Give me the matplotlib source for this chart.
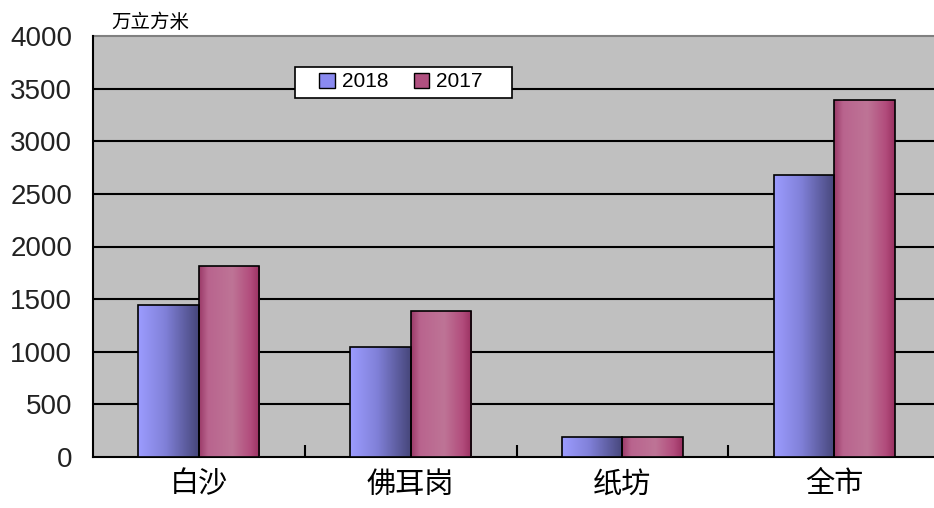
import numpy as np
import matplotlib
matplotlib.use("Agg")
import matplotlib.pyplot as plt
from matplotlib.colors import LinearSegmentedColormap
from matplotlib.patches import Patch, Rectangle

plt.rcParams['font.family'] = ['Noto Sans CJK SC', 'DejaVu Sans']

categories = ["白沙", "佛耳岗", "纸坊", "全市"]
series_names = ["2018", "2017"]
values_2018 = [1445, 1045, 190, 2680]
values_2017 = [1815, 1390, 190, 3390]
yticks = [0, 500, 1000, 1500, 2000, 2500, 3000, 3500, 4000]
unit_label = "万立方米"

W, H = 934, 508
fig = plt.figure(figsize=(W / 100, H / 100), dpi=100)
fig.patch.set_facecolor("white")

ax_left, ax_bottom = 93, 457
ax = fig.add_axes([ax_left / W, (H - ax_bottom) / H, (W - ax_left) / W, 421 / H])
ax.set_facecolor("#C0C0C0")

cmap_2018 = LinearSegmentedColormap.from_list(
    "c2018", [(0, "#9C9CFF"), (0.45, "#8080D8"), (1.0, "#46467A")])
cmap_2017 = LinearSegmentedColormap.from_list(
    "c2017", [(0, "#9A3A68"), (0.15, "#B9648E"), (0.55, "#BE7496"), (0.85, "#B24C7C"), (1.0, "#993060")])

width = 0.286
x = np.arange(len(categories))
grad = np.linspace(0, 1, 256).reshape(1, -1)

for vals, off, cmap in [(values_2018, -width / 2, cmap_2018), (values_2017, width / 2, cmap_2017)]:
    bars = ax.bar(x + off, vals, width, facecolor="none", edgecolor="black", linewidth=1.2, zorder=4)
    for b in bars:
        x0, y0 = b.get_x(), b.get_y()
        w, h = b.get_width(), b.get_height()
        im = ax.imshow(grad, cmap=cmap, aspect="auto", extent=(x0, x0 + w, y0, y0 + h),
                       zorder=3, interpolation="bicubic")
        im.set_clip_path(b)

ax.set_xlim(-0.5, 3.5 - 6 / 211.7)
ax.set_ylim(0, 4000)

for yv in yticks[1:-1]:
    ax.axhline(yv, color="black", linewidth=1.5, zorder=1)

ax.set_yticks(yticks)
ax.set_yticklabels([str(v) for v in yticks], fontsize=20, family=['Liberation Sans', 'DejaVu Sans'], color="#222222")
ax.tick_params(axis="y", length=0, pad=15)

ax.set_xticks(x)
ax.set_xticklabels(categories, fontsize=21)
ax.tick_params(axis="x", length=0, pad=9)
ax.set_xticks([0.5, 1.5, 2.5], minor=True)
ax.tick_params(axis="x", which="minor", direction="in", length=9, width=1.5, color="black")

for s in ["top", "right"]:
    ax.spines[s].set_visible(False)
ax.spines["left"].set_color("black")
ax.spines["left"].set_linewidth(1.5)
ax.spines["bottom"].set_color("black")
ax.spines["bottom"].set_linewidth(1.5)
ax.axhline(4000, color="#808080", linewidth=1.5, zorder=1, clip_on=False)

fig.text(111 / W, 1 - 22 / H, unit_label, fontsize=14, va="center", ha="left")

# legend box (frame drawn in figure pixels)
fig.patches.append(Rectangle((295 / W, 1 - 98 / H), 217 / W, 31 / H, transform=fig.transFigure,
                             facecolor="white", edgecolor="black", linewidth=1.2, zorder=5))
handles = [Patch(facecolor="#8A8AF0", edgecolor="black", label=series_names[0]),
           Patch(facecolor="#B05080", edgecolor="black", label=series_names[1])]
leg = fig.legend(handles=handles, loc="center", ncol=2,
                 bbox_to_anchor=(401 / W, 1 - 82 / H), frameon=False,
                 prop={'family': ['Liberation Sans', 'DejaVu Sans'], 'size': 15},
                 handlelength=0.75, handleheight=0.75, handletextpad=0.35, columnspacing=1.2,
                 borderpad=0.3, borderaxespad=0)
leg.set_zorder(6)

fig.savefig("out.png", dpi=100, facecolor="white")
